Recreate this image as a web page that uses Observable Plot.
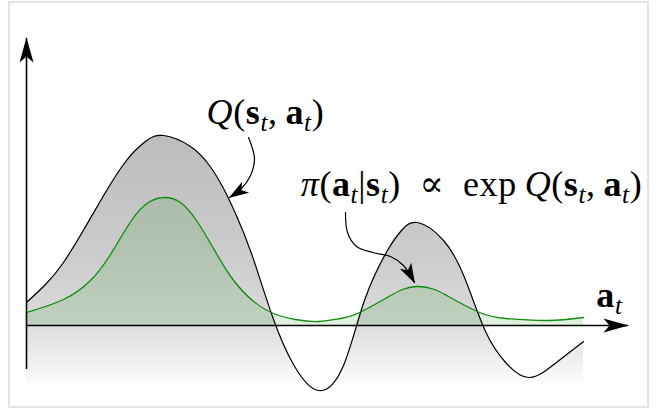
<!DOCTYPE html>
<html>
<head>
<meta charset="utf-8">
<script src="https://cdn.jsdelivr.net/npm/d3@7"></script>
<script src="https://cdn.jsdelivr.net/npm/@observablehq/plot@0.6"></script>
<style>
  html, body { margin: 0; padding: 0; background: #fff; }
  svg text.math, svg text.math tspan { font-family: "Liberation Serif", "DejaVu Serif", serif; letter-spacing: 0.6px; }
</style>
</head>
<body>
<div id="chart"></div>
<script>
// Q(s,a) curve samples (action a, value)
const aQ = [0, 0.341, 0.664, 1.041, 1.418, 1.795, 2.136, 2.460, 2.944, 3.285, 3.519, 3.752, 4.039, 4.416, 4.793, 5.242, 5.691, 6.068, 6.481, 6.732, 7.020, 7.487, 7.864, 8.241, 8.618, 9.031, 9.515, 10];
const vQ = [0.46, 0.82, 1.26, 1.94, 2.66, 3.30, 3.68, 3.80, 3.58, 3.20, 2.78, 2.24, 1.44, 0.18, -0.78, -1.30, -0.80, 0.50, 1.50, 1.90, 2.06, 1.70, 0.96, -0.12, -0.76, -1.04, -0.74, -0.32];
// policy pi(a|s) samples
const aPi = [0, 0.664, 1.149, 1.508, 1.885, 2.190, 2.478, 2.765, 3.052, 3.357, 3.680, 4.057, 4.434, 4.829, 5.242, 5.637, 5.943, 6.445, 6.750, 7.038, 7.325, 7.576, 8.133, 8.600, 9.354, 10];
const vPi = [0.26, 0.52, 0.90, 1.42, 2.10, 2.46, 2.56, 2.46, 2.10, 1.54, 0.96, 0.50, 0.24, 0.12, 0.08, 0.14, 0.24, 0.54, 0.72, 0.78, 0.72, 0.58, 0.26, 0.14, 0.10, 0.16];

// annotation arrows
const qArrowA = [3.986, 4.093, 4.022, 3.860, 3.645];
const qArrowV = [3.76, 3.34, 3.00, 2.74, 2.56];
const piArrowA = [5.727, 5.763, 5.925, 6.212, 6.535, 6.768, 6.966];
const piArrowV = [2.26, 1.86, 1.58, 1.46, 1.38, 1.20, 0.86];

// labels: [text, style]
const qLabel = [["Q","i"],["(",""],["s","b"],["t","sub"],[",\u2009",""],["a","b"],["t","sub"],[")",""]];
const piLabel = [["\u03c0","i"],["(",""],["a","b"],["t","sub"],["|",""],["s","b"],["t","sub"],[")",""],["\u2002\u221d\u2002",""],["exp",""],["\u2009",""],["Q","i"],["(",""],["s","b"],["t","sub"],[",\u2009",""],["a","b"],["t","sub"],[")",""]];
const axisLabel = [["a","b"],["t","sub"]];

const zip = (xs, ys) => xs.map((a, i) => ({a, v: ys[i]}));
const Q = zip(aQ, vQ);
const Pi = zip(aPi, vPi);
const qArrow = zip(qArrowA, qArrowV);
const piArrow = zip(piArrowA, piArrowV);
const yAxis = zip([0, 0], [-0.86, 5.74]);
const xAxis = zip([0, 10.79], [0, 0]);

const curve = "natural";
const FS = 36;

const plot = Plot.plot({
  width: 656,
  height: 414,
  marginLeft: 26,
  marginRight: 73,
  marginTop: 40,
  marginBottom: 21,
  x: {domain: [0, 10], axis: null},
  y: {domain: [-1.36, 5.7], axis: null},
  marks: [
    Plot.frame({stroke: "#dcdcdc", strokeWidth: 1.5, insetLeft: -17.5, insetRight: -64.5, insetTop: -38.5, insetBottom: -13.5}),
    Plot.areaY(Q, {x: "a", y1: "v", y2: -1.22, fill: "url(#qgrad)", curve}),
    Plot.areaY(Pi, {x: "a", y1: "v", y2: 0, fill: "#0a8a0a", fillOpacity: 0.13, curve}),
    Plot.line(Q, {x: "a", y: "v", stroke: "black", strokeWidth: 1.2, curve}),
    Plot.line(Pi, {x: "a", y: "v", stroke: "#118a11", strokeWidth: 1.3, curve}),
    Plot.line(yAxis, {x: "a", y: "v", stroke: "black", strokeWidth: 1.6}),
    Plot.line(xAxis, {x: "a", y: "v", stroke: "black", strokeWidth: 1.6}),
    Plot.line(qArrow, {x: "a", y: "v", stroke: "black", strokeWidth: 1.2, curve: "catmull-rom"}),
    Plot.line(piArrow, {x: "a", y: "v", stroke: "black", strokeWidth: 1.2, curve: "catmull-rom"}),
    Plot.text([0], {x: 4.29, y: 4.04, text: () => qLabel.map(d => d[0]).join(""), fontSize: FS, textAnchor: "middle", lineAnchor: "bottom", fill: "black"}),
    Plot.text([0], {x: 7.99, y: 2.6, text: () => piLabel.map(d => d[0]).join(""), fontSize: FS, textAnchor: "middle", lineAnchor: "bottom", fill: "black"}),
    Plot.text([0], {x: 10.23, y: 0.38, text: () => axisLabel.map(d => d[0]).join(""), fontSize: FS, textAnchor: "start", lineAnchor: "bottom", fill: "black"})
  ]
});

const svg = d3.select(plot);
const defs = svg.insert("defs", ":first-child");
const g = defs.append("linearGradient").attr("id", "qgrad")
  .attr("gradientUnits", "userSpaceOnUse")
  .attr("x1", 0).attr("x2", 0).attr("y1", 135).attr("y2", 388);
[[0, "#bcbcbc"], [0.5, "#cdcdcd"], [0.75, "#dcdcdc"], [1, "#ffffff"]].forEach(([o, c]) =>
  g.append("stop").attr("offset", o).attr("stop-color", c));

function stealth(id, L, W, notch) {
  defs.append("marker").attr("id", id)
    .attr("markerUnits", "userSpaceOnUse")
    .attr("markerWidth", 1).attr("markerHeight", 1)
    .attr("refX", 0).attr("refY", 0)
    .attr("orient", "auto")
    .attr("overflow", "visible")
    .append("path")
    .attr("d", `M1,0 L${-L},${-W/2} L${-L + notch},0 L${-L},${W/2} Z`)
    .attr("fill", "black").attr("stroke", "none");
}
stealth("bigHead", 24, 14, 6);
stealth("smallHead", 19, 13, 5);

const lineGroups = svg.selectAll('g[aria-label="line"]').nodes();
[2, 3].forEach(i => lineGroups[i] && d3.select(lineGroups[i]).selectAll("path").attr("marker-end", "url(#bigHead)"));
[4, 5].forEach(i => lineGroups[i] && d3.select(lineGroups[i]).selectAll("path").attr("marker-end", "url(#smallHead)"));

const textGroups = svg.selectAll('g[aria-label="text"]').nodes();
function setMath(node, parts) {
  if (!node) return;
  d3.select(node).attr("font-family", null);
  const t = d3.select(node).select("text");
  t.text(null).classed("math", true).attr("dy", null);
  let shift = 0;
  const subShift = FS * 0.2;
  for (const [s, style] of parts) {
    const ts = t.append("tspan").text(s);
    if (style === "i") ts.attr("font-style", "italic");
    if (style === "b") ts.attr("font-weight", "bold");
    if (style === "sub") {
      ts.attr("font-style", "italic").attr("font-size", FS * 0.7);
      if (shift === 0) { ts.attr("dy", subShift); shift = subShift; }
    } else if (shift !== 0) {
      ts.attr("dy", -shift); shift = 0;
    }
  }
}
setMath(textGroups[0], qLabel);
setMath(textGroups[1], piLabel);
setMath(textGroups[2], axisLabel);

document.getElementById("chart").appendChild(plot);
</script>
</body>
</html>
